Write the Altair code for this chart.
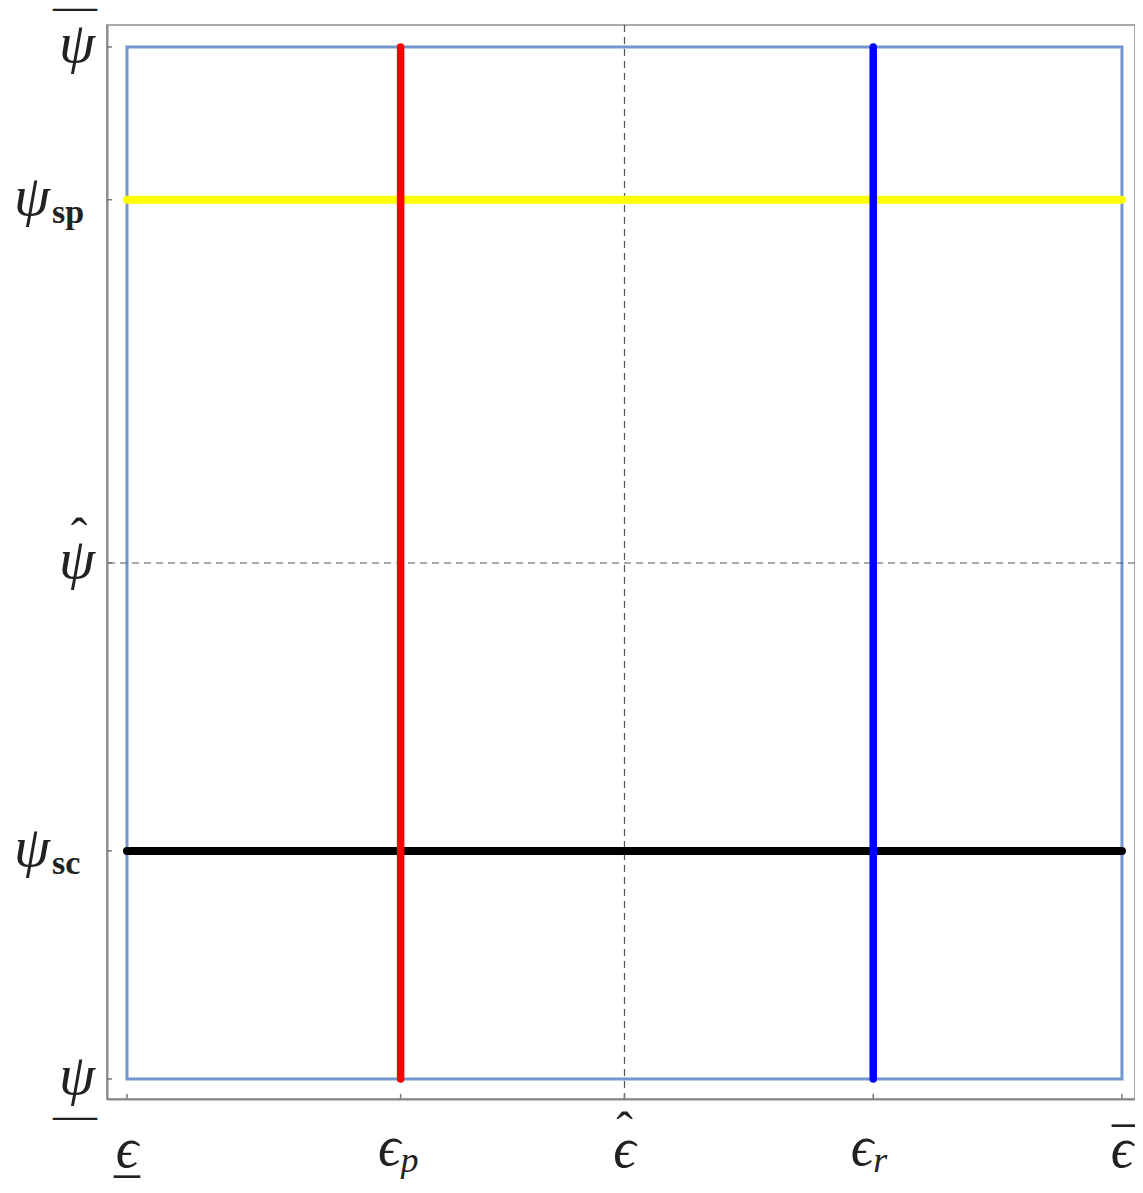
import altair as alt
import pandas as pd

# ---- data ----
x_tick_vals = [0.0, 0.275, 0.5, 0.75, 1.0]
y_tick_vals = [0.0, 0.221, 0.5, 0.852, 1.0]

# x labels: plain glyph + accent, or glyph + subscript
x_plain_vals = [0.0, 0.5, 1.0]
x_plain_text = ["\u03f5", "\u03f5", "\u03f5"]
x_sub_vals = [0.275, 0.75]
x_sub_base = ["\u03f5", "\u03f5"]
x_sub_text = ["p", "r"]

# y labels
y_plain_vals = [1.0, 0.5, 0.0]
y_plain_text = ["\u03c8", "\u03c8", "\u03c8"]
y_sub_vals = [0.852, 0.221]
y_sub_base = ["\u03c8", "\u03c8"]
y_sub_text = ["sp", "sc"]

# accents: bar over, hat, bar under
x_over_vals = [1.0]
x_hat_vals = [0.5]
x_under_vals = [0.0]
y_over_vals = [1.0]
y_hat_vals = [0.5]
y_under_vals = [0.0]

box_x = [0.0]
box_x2 = [1.0]
box_y = [0.0]
box_y2 = [1.0]

vert_x = [0.275, 0.75]
vert_colors = ["#ff0000", "#0000ff"]

horiz_y = [0.852, 0.221]
horiz_colors = ["#ffff00", "#000000"]

ref_x = [0.5]
ref_y = [0.5]

X_DOM = [-0.0201, 1.0131]
Y_DOM = [-0.0194, 1.0213]
X_LO = X_DOM[0]
Y_LO = Y_DOM[0]

xs = alt.Scale(domain=X_DOM, nice=False, zero=False)
ys = alt.Scale(domain=Y_DOM, nice=False, zero=False)

box_df = pd.DataFrame({"x": box_x, "x2": box_x2, "y": box_y, "y2": box_y2})
vert_df = pd.DataFrame({"x": vert_x, "c": vert_colors, "y": [0.0] * 2, "y2": [1.0] * 2})
horiz_df = pd.DataFrame({"y": horiz_y, "c": horiz_colors, "x": [0.0] * 2, "x2": [1.0] * 2})
refx_df = pd.DataFrame({"x": ref_x})
refy_df = pd.DataFrame({"y": ref_y})
xt_df = pd.DataFrame({"x": x_tick_vals, "y": [Y_LO] * 5, "y2": [Y_LO + 0.005] * 5})
yt_df = pd.DataFrame({"y": y_tick_vals, "x": [X_LO] * 5, "x2": [X_LO + 0.005] * 5})

xp_df = pd.DataFrame({"x": x_plain_vals, "t": x_plain_text})
xs_df = pd.DataFrame({"x": x_sub_vals, "b": x_sub_base, "s": x_sub_text})
yp_df = pd.DataFrame({"y": y_plain_vals, "t": y_plain_text})
ys_df = pd.DataFrame({"y": y_sub_vals, "b": y_sub_base, "s": y_sub_text})

FONT = "Liberation Serif, DejaVu Serif, serif"
PSI = 58
EPS = 56
SUB = 34
TXT = "#222222"

base_axis_x = alt.Axis(values=x_tick_vals, labels=False, ticks=False, grid=False, title=None,
                       domainColor="#888888", domainWidth=2)
base_axis_y = alt.Axis(values=y_tick_vals, labels=False, ticks=False, grid=False, title=None,
                       domainColor="#888888", domainWidth=2)

box = alt.Chart(box_df).mark_rect(filled=False, stroke="#7396cf", strokeWidth=3).encode(
    x=alt.X("x:Q", scale=xs, axis=base_axis_x),
    x2="x2:Q",
    y=alt.Y("y:Q", scale=ys, axis=base_axis_y),
    y2="y2:Q",
)

refx = alt.Chart(refx_df).mark_rule(color="#555555", strokeWidth=1.2, strokeDash=[7, 5]).encode(
    x=alt.X("x:Q", scale=xs)
)
refy = alt.Chart(refy_df).mark_rule(color="#555555", strokeWidth=1.2, strokeDash=[7, 5]).encode(
    y=alt.Y("y:Q", scale=ys)
)

xticks = alt.Chart(xt_df).mark_rule(color="#777777", strokeWidth=1.5).encode(
    x=alt.X("x:Q", scale=xs), y=alt.Y("y:Q", scale=ys), y2="y2:Q"
)
yticks = alt.Chart(yt_df).mark_rule(color="#777777", strokeWidth=1.5).encode(
    y=alt.Y("y:Q", scale=ys), x=alt.X("x:Q", scale=xs), x2="x2:Q"
)

horiz = alt.Chart(horiz_df).mark_rule(strokeWidth=8, strokeCap="round").encode(
    y=alt.Y("y:Q", scale=ys), x=alt.X("x:Q", scale=xs), x2="x2:Q",
    color=alt.Color("c:N", scale=None, legend=None),
)
vert = alt.Chart(vert_df).mark_rule(strokeWidth=7.5, strokeCap="round").encode(
    x=alt.X("x:Q", scale=xs), y=alt.Y("y:Q", scale=ys), y2="y2:Q",
    color=alt.Color("c:N", scale=None, legend=None),
)

def txt(df, **kw):
    return alt.Chart(df).mark_text(font=FONT, color=TXT, **kw)

# x labels
xlab_plain = txt(xp_df, fontSize=EPS, fontStyle="italic", align="center",
                 baseline="alphabetic", dy=68).encode(
    x=alt.X("x:Q", scale=xs), y=alt.datum(Y_LO), text="t:N")
xlab_base = txt(xs_df, fontSize=EPS, fontStyle="italic", align="right",
                baseline="alphabetic", dy=66, dx=0).encode(
    x=alt.X("x:Q", scale=xs), y=alt.datum(Y_LO), text="b:N")
xlab_sub = txt(xs_df, fontSize=SUB + 2, fontStyle="italic", align="left",
               baseline="alphabetic", dy=73, dx=0).encode(
    x=alt.X("x:Q", scale=xs), y=alt.datum(Y_LO), text="s:N")

x_over = txt(pd.DataFrame({"x": x_over_vals}), fontSize=52, align="center", baseline="middle",
             dy=23, dx=3, text="\u2013").encode(x=alt.X("x:Q", scale=xs), y=alt.datum(Y_LO))
x_under = txt(pd.DataFrame({"x": x_under_vals}), fontSize=52, align="center", baseline="middle",
              dy=74, dx=0, text="\u2013").encode(x=alt.X("x:Q", scale=xs), y=alt.datum(Y_LO))
x_hat = txt(pd.DataFrame({"x": x_hat_vals}), fontSize=50, align="center", baseline="middle",
            dy=33, dx=0, text="\u02c6").encode(x=alt.X("x:Q", scale=xs), y=alt.datum(Y_LO))

# y labels
ylab_plain = txt(yp_df, fontSize=PSI, fontStyle="italic", align="right",
                 baseline="alphabetic", dx=-12, dy=15).encode(
    y=alt.Y("y:Q", scale=ys), x=alt.datum(X_LO), text="t:N")
ylab_base = txt(ys_df, fontSize=PSI, fontStyle="italic", align="right",
                baseline="alphabetic", dx=-57, dy=15).encode(
    y=alt.Y("y:Q", scale=ys), x=alt.datum(X_LO), text="b:N")
ylab_sub = txt(ys_df, fontSize=SUB, fontWeight="bold", align="left",
               baseline="alphabetic", dx=-55, dy=23).encode(
    y=alt.Y("y:Q", scale=ys), x=alt.datum(X_LO), text="s:N")

y_over = txt(pd.DataFrame({"y": y_over_vals}), fontSize=44, align="center", baseline="middle",
             dx=-32, dy=-40, text="\u2014").encode(y=alt.Y("y:Q", scale=ys), x=alt.datum(X_LO))
y_under = txt(pd.DataFrame({"y": y_under_vals}), fontSize=44, align="center", baseline="middle",
              dx=-32, dy=37, text="\u2014").encode(y=alt.Y("y:Q", scale=ys), x=alt.datum(X_LO))
y_hat = txt(pd.DataFrame({"y": y_hat_vals}), fontSize=50, align="center", baseline="middle",
            dx=-28, dy=-25, text="\u02c6").encode(y=alt.Y("y:Q", scale=ys), x=alt.datum(X_LO))

chart = alt.layer(
    box, refx, refy, xticks, yticks, horiz, vert,
    xlab_plain, xlab_base, xlab_sub, x_over, x_under, x_hat,
    ylab_plain, ylab_base, ylab_sub, y_over, y_under, y_hat,
).properties(
    width=1028, height=1074,
    autosize=alt.AutoSizeParams(type="none"),
    padding={"left": 99, "top": 17, "right": 0, "bottom": 80},
).configure_view(
    stroke="#aaaaaa", strokeWidth=2
)

chart.save("out.html", embed_options={"renderer": "svg", "actions": False})
